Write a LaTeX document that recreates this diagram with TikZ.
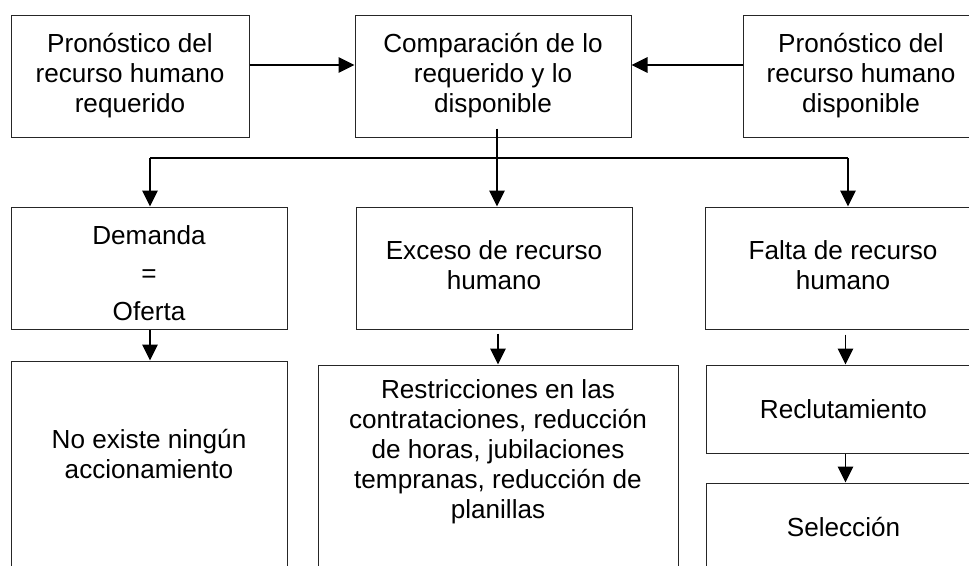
\documentclass[tikz,border=0pt]{standalone}
\usepackage{fontspec}
\setmainfont{Liberation Sans}
\usetikzlibrary{arrows.meta}
\begin{document}
\begin{tikzpicture}[x=0.75pt,y=-0.75pt,
  lbl/.style={inner sep=0pt, align=center, font=\fontsize{19.6}{22.5}\selectfont},
  box/.style={lbl, draw=black!85, line width=0.75pt},
  conn/.style={line width=1.3pt},
  arr/.style={conn, -{Triangle[length=12pt,width=11.5pt]}}]
\useasboundingbox (0,0) rectangle (969,565);
\clip (0,0) rectangle (969,565);
\fill[white] (0,0) rectangle (969,565);

% top row
\node[box, minimum width=178.5pt, minimum height=91.5pt] (a) at (130,76) {Pronóstico del\\recurso humano\\requerido};
\node[box, minimum width=207pt, minimum height=91.5pt] (b) at (493,76) {Comparación de lo\\requerido y lo\\disponible};
\node[box, minimum width=177pt, minimum height=91.5pt] (c) at (861,76) {Pronóstico del\\recurso humano\\disponible};

% middle row
\node[box, minimum width=207pt, minimum height=91.5pt] (d) at (149,268) {};
\node[lbl] (dt) at (149,273) {Demanda\\[6pt]=\\[6pt]Oferta};
\node[box, minimum width=207pt, minimum height=91.5pt] (e) at (494,268) {};
\node[lbl] (et) at (494,265) {Exceso de recurso\\humano};
\node[box, minimum width=207pt, minimum height=91.5pt] (f) at (843,268) {};
\node[lbl] (ft) at (843,265) {Falta de recurso\\humano};

% bottom row
\node[box, minimum width=207pt, minimum height=179.25pt] (g) at (149,480.5) {};
\node[lbl] (gt) at (149,454) {No existe ningún\\accionamiento};
\node[box, minimum width=270pt, minimum height=176.25pt] (h) at (498,482.5) {};
\node[lbl] (ht) at (498,451.5) {Restricciones en las\\contrataciones, reducción\\de horas, jubilaciones\\tempranas, reducción de\\planillas};
\node[box, minimum width=206.25pt, minimum height=66pt] (i) at (843.5,409) {Reclutamiento};
\node[box, minimum width=206.25pt, minimum height=65.25pt] (j) at (843.5,526.5) {Selección};

% connectors
\draw[arr] ([yshift=8.25pt]a.east) -- ([yshift=8.25pt]b.west);
\draw[arr] ([yshift=8.25pt]c.west) -- ([yshift=8.25pt]b.east);

\coordinate (jm) at (497,158);
\coordinate (jl) at (150,158);
\coordinate (jr) at (848,158);
\draw[conn] ([xshift=3pt,yshift=6.75pt]b.south) -- (jm);
\draw[conn] (jl) -- (jr);
\draw[arr] (jl) -- (jl |- d.north);
\draw[arr] (jm) -- (jm |- e.north);
\draw[arr] (jr) -- (jr |- f.north);

\draw[arr] ([xshift=0.75pt]d.south) -- ([xshift=0.75pt]d.south |- g.north);
\draw[arr, shorten <=3pt] (h.north |- e.south) -- (h.north);
\draw[arr, shorten <=3.75pt] ([xshift=1.5pt]i.north |- f.south) -- ([xshift=1.5pt]i.north);
\draw[arr] ([xshift=1.5pt]i.south) -- ([xshift=1.5pt]j.north);
\end{tikzpicture}
\end{document}
